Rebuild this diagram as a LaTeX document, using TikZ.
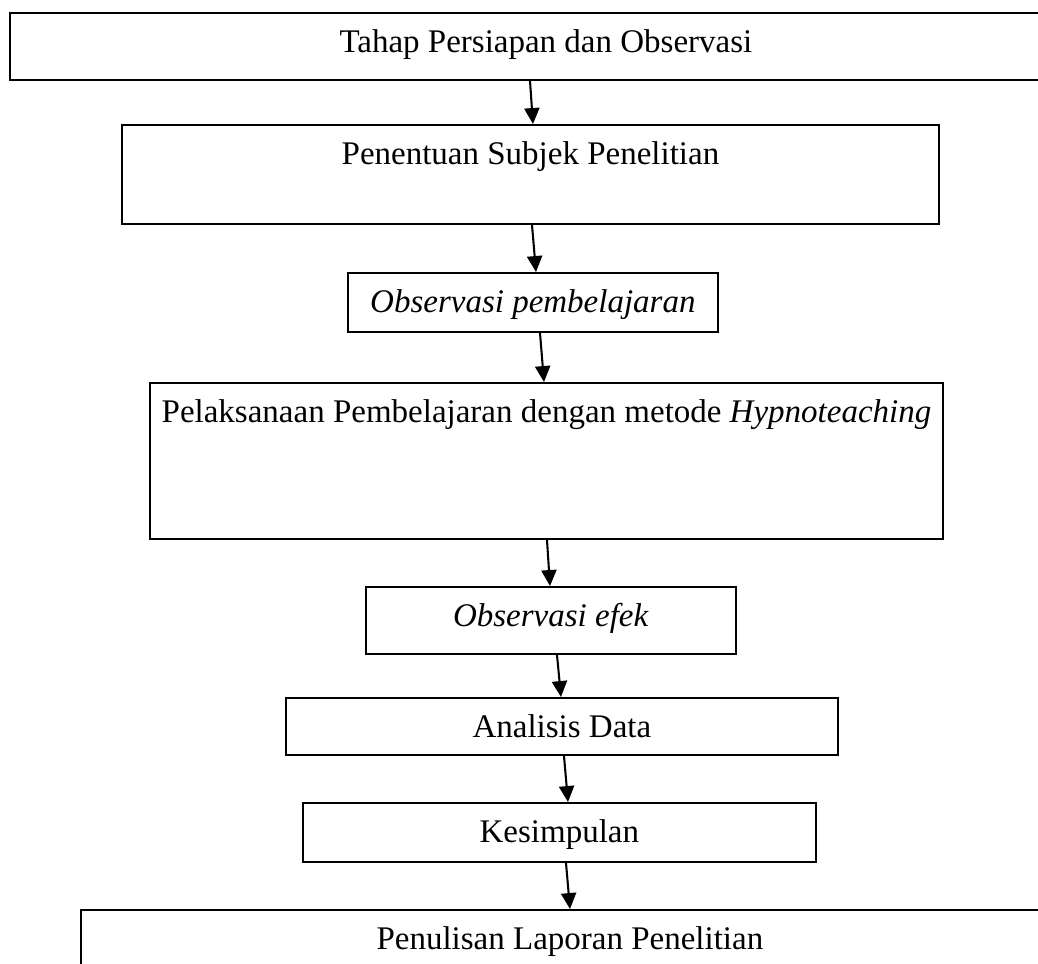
\documentclass[tikz,border=0pt]{standalone}
\usepackage{fontspec}
\setmainfont{Liberation Serif}
\usetikzlibrary{arrows.meta}

\begin{document}
\begin{tikzpicture}[x=0.36364pt, y=-0.36364pt,
        box/.style={draw, line width=0.7pt, inner sep=0pt, anchor=north west,
            font=\fontsize{12pt}{14pt}\selectfont, text height=14.55pt},
        flow/.style={-{Triangle[length=5.8pt,width=5.5pt]}, line width=0.75pt}]
        \useasboundingbox (0,0) rectangle (1038,964);
        % Boxes, top to bottom
        \node [box, minimum width=389.8pt, text depth=9.8pt] (persiapan) at (9,12)
            {Tahap Persiapan dan Observasi};
        \node [box, minimum width=297.1pt, text depth=21.45pt] (subjek) at (121,124)
            {Penentuan Subjek Penelitian};
        \node [box, minimum width=134.5pt, text depth=6.9pt] (obspemb) at (347,272)
            {\textit{Observasi pembelajaran}};
        \node [box, minimum width=288.4pt, text depth=42.2pt] (pelaksanaan) at (149,382)
            {Pelaksanaan Pembelajaran dengan metode \textit{Hypnoteaching}};
        \node [box, minimum width=134.5pt, text depth=9.8pt] (obsefek) at (365,586)
            {\textit{Observasi efek}};
        \node [box, minimum width=200.7pt, text depth=6.2pt] (analisis) at (285,697)
            {Analisis Data};
        \node [box, minimum width=186.5pt, text depth=6.9pt] (kesimpulan) at (302,802)
            {Kesimpulan};
        \node [box, minimum width=355.6pt, text depth=20pt] (laporan) at (80,909)
            {Penulisan Laporan Penelitian};
        % Arrows between the steps
        \draw [flow] (persiapan.south -| 530,0) -- (subjek.north -| 533,0);
        \draw [flow] (subjek.south -| 532,0) -- (obspemb.north -| 536,0);
        \draw [flow] (obspemb.south -| 540,0) -- (pelaksanaan.north -| 544,0);
        \draw [flow] (pelaksanaan.south -| 547,0) -- (obsefek.north -| 550,0);
        \draw [flow] (obsefek.south -| 557,0) -- (analisis.north -| 561,0);
        \draw [flow] (analisis.south -| 564,0) -- (kesimpulan.north -| 568,0);
        \draw [flow] (kesimpulan.south -| 566,0) -- (laporan.north -| 570,0);
\end{tikzpicture}
\end{document}
